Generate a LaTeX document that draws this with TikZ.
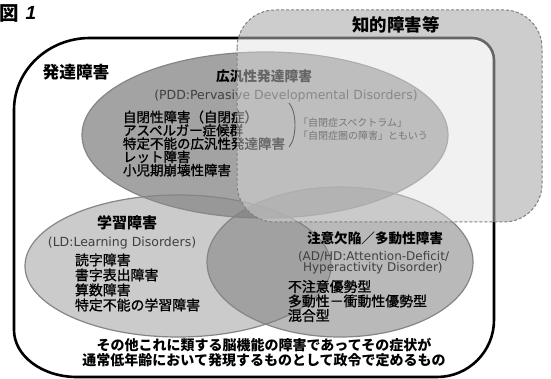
\documentclass[tikz,border=0pt]{standalone}
\usepackage{fontspec}
\setmainfont{Noto Sans CJK JP}
\newfontfamily\lstfont[FakeBold=1.2]{Noto Sans CJK JP}
\newfontfamily\latfont{DejaVu Sans}
\newfontfamily\numfont{Liberation Sans}
\usepackage{tikz}
\usetikzlibrary{positioning}
\definecolor{pddgray}{gray}{0.64}
\definecolor{ldgray}{gray}{0.55}
\definecolor{adgray}{gray}{0.5}
\definecolor{rimgray}{gray}{0.52}
\definecolor{idgray}{gray}{0.75}
\definecolor{veilgray}{gray}{0.88}
\definecolor{subgray}{gray}{0.25}
\definecolor{notegray}{gray}{0.12}
% outline of the big box
\newcommand{\devpath}{(14,110) arc[start angle=180, end angle=270, x radius=76, y radius=72]
  -- (472,38) arc[start angle=270, end angle=360, radius=22]
  -- (494,320) arc[start angle=0, end angle=90, radius=57]
  -- (77,377) arc[start angle=90, end angle=180, x radius=63, y radius=47] -- cycle}

\begin{document}
\begin{tikzpicture}[x=1pt, y=-1pt,
  every node/.style = {inner sep=0pt, outer sep=0pt},
  head/.style = {font=\bfseries\fontsize{#1}{#1}\selectfont},
  sub/.style 2 args = {font=\latfont\fontsize{#1}{#2}\selectfont, text=subgray, align=left},
  lst/.style 2 args = {font=\lstfont\fontsize{#1}{#2}\selectfont, align=left},
  note/.style = {font=\fontsize{10}{13}\selectfont, text=notegray, align=left},
  rim/.style = {draw=rimgray, line width=1.2pt}
]
\useasboundingbox (0,0) rectangle (551,379);

% background of the dashed box, then the white box
\fill[idgray, rounded corners=38] (237,10) rectangle (542,222);
\fill[white] \devpath;

% three circles
\fill[pddgray] (265,135) ellipse [x radius=183, y radius=83];
\draw[rim] (265,135) ellipse [x radius=183, y radius=83];
\fill[ldgray, opacity=0.45] (178,266) ellipse [x radius=153, y radius=71];
\draw[rim] (178,266) ellipse [x radius=153, y radius=71];
\fill[adgray, opacity=0.55] (340,262) ellipse [x radius=133, y radius=75];
\draw[rim] (340,262) ellipse [x radius=133, y radius=75];

\draw[line width=2.6pt] \devpath;

\node[head=19.5, anchor=west] (fig) at (-1,13) {図};
\node[anchor=west, font=\numfont\bfseries\itshape\fontsize{19}{19}\selectfont] (fignum) [right=7pt of fig] {1};

\node[head=16.7] (dev) at (76,72) {発達障害};

\node[head=13.7] (pdd) at (264,76) {広汎性発達障害};
\node[sub={12.5}{13}] (pddsub) at (286,96) {(PDD:Pervasive Developmental Disorders)};
\node[lst={13.5}{13.3}, anchor=west] (pddlist) at (123,143.5) {自閉性障害（自閉症）\\アスペルガー症候群\\特定不能の広汎性発達障害\\レット障害\\小児期崩壊性障害};
\draw[line width=0.9pt] (289,103) .. controls (297,112) and (297,138) .. (289,147);
\node[note, anchor=west] (aka) at (298,129) {「自閉症スペクトラム」\\「自閉症圏の障害」ともいう};

\node[head=15] (ld) at (127,223) {学習障害};
\node[sub={12.5}{13}] (ldsub) at (122,243) {(LD:Learning Disorders)};
\node[lst={13.9}{15}, anchor=west] (ldlist) at (75,282.5) {読字障害\\書字表出障害\\算数障害\\特定不能の学習障害};

\node[head=13.6] (adhd) at (375,238) {注意欠陥／多動性障害};
\node[sub={12}{11.5}, anchor=west] (adhdsub) at (298,262.5) {(AD/HD:Attention-Deficit/\\\hspace{5pt}Hyperactivity Disorder)};
\node[lst={13.9}{14.5}, anchor=west] (adhdlist) at (288,301) {不注意優勢型\\多動性－衝動性優勢型\\混合型};

\node[font=\bfseries\fontsize{14}{15}\selectfont, align=center] (other) at (264,352.5) {その他これに類する脳機能の障害であってその症状が\\通常低年齢において発現するものとして政令で定めるもの};

% veil of the dashed box
\fill[veilgray, opacity=0.45, rounded corners=38] (237,10) rectangle (542,222);
\draw[gray, line width=1pt, dash pattern=on 3pt off 2pt, rounded corners=38] (237,10) rectangle (542,222);
\node[head=17.4] (id) at (396,25) {知的障害等};
\end{tikzpicture}
\end{document}
